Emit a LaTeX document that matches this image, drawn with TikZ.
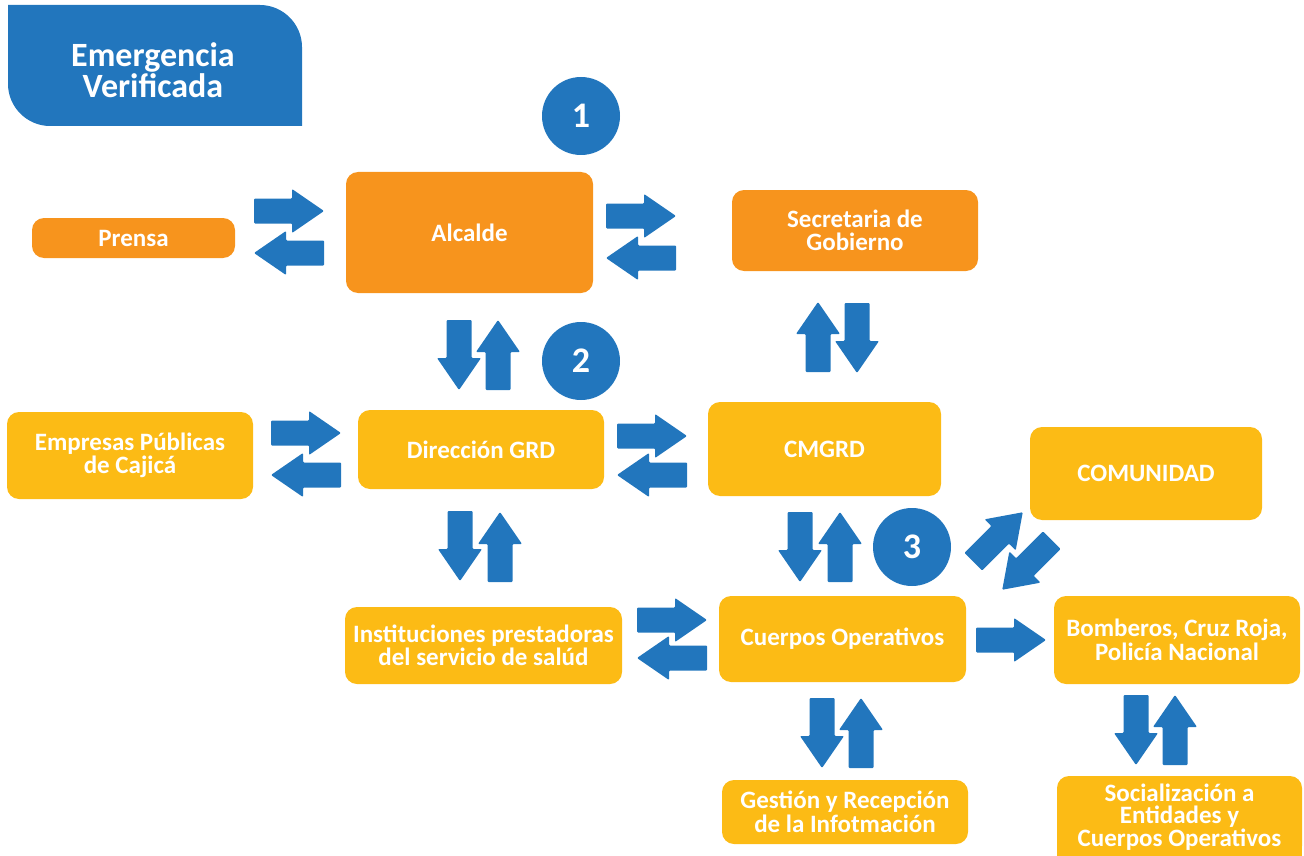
\documentclass[tikz,border=0pt]{standalone}
\usepackage{fontspec}
\setmainfont{Carlito}
\usetikzlibrary{positioning}
\definecolor{blueA}{HTML}{2276BD}
\definecolor{orangeA}{HTML}{F7941D}
\definecolor{yellowA}{HTML}{FCBB15}

\begin{document}
\begin{tikzpicture}[
    x=1pt, y=-1pt,
    box/.style={rounded corners=12pt, align=center, text=white, inner sep=0pt,
                font=\bfseries\fontsize{25}{23.5}\selectfont},
    obox/.style={box, fill=orangeA},
    ybox/.style={box, fill=yellowA},
    num/.style={circle, fill=blueA, text=white, minimum size=78pt, inner sep=0pt,
                font=\bfseries\fontsize{36}{36}\selectfont},
    flecha/.pic={\fill[blueA, rounded corners=1pt] (-35,-12.5) -- (3,-12.5) -- (3,-22)
                 -- (35,0) -- (3,22) -- (3,12.5) -- (-35,12.5) -- cycle;}
  ]
  \useasboundingbox (0,0) rectangle (1304,856);
  \clip (0,0) rectangle (1304,856);

  % header
  \fill[blueA] (8,5) -- (260,5) .. controls (283,5) and (302,24) .. (302,47)
    -- (302,126) -- (50,126) .. controls (27,126) and (8,107) .. (8,84) -- cycle;
  \node[text=white, align=center, font=\bfseries\fontsize{34}{31}\selectfont] (titulo) at (153,70) {Emergencia\\Verificada};

  % numbers
  \node[num] (uno) at (581,116) {1};
  \node[num] (dos) at (581,361) {2};
  \node[num] (tres) at (912,547) {3};

  % boxes
  \node[obox, minimum width=203pt, minimum height=40pt] (prensa) at (133.5,238) {Prensa};
  \node[obox, minimum width=247pt, minimum height=121pt] (alcalde) at (469.5,232.5) {Alcalde};
  \node[obox, minimum width=246pt, minimum height=81pt] (secretaria) at (855,230.5) {Secretaria de\\Gobierno};
  \node[ybox, minimum width=246pt, minimum height=87pt] (empresas) at (130,455.5) {Empresas Públicas\\de Cajicá};
  \node[ybox, minimum width=246pt, minimum height=79pt] (direccion) at (481,449.5) {Dirección GRD};
  \node[ybox, minimum width=233pt, minimum height=94pt] (cmgrd) at (824.5,449) {CMGRD};
  \node[ybox, minimum width=232pt, minimum height=93pt] (comunidad) at (1146,473.5) {COMUNIDAD};
  \node[ybox, minimum width=277pt, minimum height=77pt] (instituciones) at (483.5,645.5) {Instituciones prestadoras\\del servicio de salúd};
  \node[ybox, minimum width=247pt, minimum height=86pt] (cuerpos) at (842.5,639) {Cuerpos Operativos};
  \node[ybox, minimum width=246pt, minimum height=88pt] (bomberos) at (1177,640) {Bomberos, Cruz Roja,\\Policía Nacional};
  \node[ybox, minimum width=246pt, minimum height=64pt] (gestion) at (845,812) {Gestión y Recepción\\de la Infotmación};
  \fill[yellowA] (1057,830) rectangle (1302,880);
  \node[ybox, minimum width=245pt, minimum height=82pt, font=\bfseries\fontsize{25}{22.5}\selectfont] (socializacion) at (1179.5,817) {Socialización a\\Entidades y\\Cuerpos Operativos};

  % arrows left/right
  \pic at (289,211) {flecha};
  \pic[rotate=180] at (289,253) {flecha};
  \pic at (641,216) {flecha};
  \pic[rotate=180] at (641,258) {flecha};
  \pic at (306,433) {flecha};
  \pic[rotate=180] at (306,475) {flecha};
  \pic at (652,436) {flecha};
  \pic[rotate=180] at (652,475) {flecha};
  \pic at (672,620) {flecha};
  \pic[rotate=180] at (672,658) {flecha};
  \pic at (1011,640) {flecha};

  % arrows up/down
  \pic[rotate=-90] at (459,355) {flecha};
  \pic[rotate=90] at (498,355) {flecha};
  \pic[rotate=90] at (818,337) {flecha};
  \pic[rotate=-90] at (857,338) {flecha};
  \pic[rotate=-90] at (460,546) {flecha};
  \pic[rotate=90] at (500,547) {flecha};
  \pic[rotate=-90] at (800,547) {flecha};
  \pic[rotate=90] at (840,547) {flecha};
  \pic[rotate=-90] at (822,733) {flecha};
  \pic[rotate=90] at (861,733) {flecha};
  \pic[rotate=-90] at (1136,730) {flecha};
  \pic[rotate=90] at (1175,730) {flecha};

  % comunidad
  \pic[rotate=45] at (998,537) {flecha};
  \pic[rotate=225] at (1027,565) {flecha};
\end{tikzpicture}
\end{document}
